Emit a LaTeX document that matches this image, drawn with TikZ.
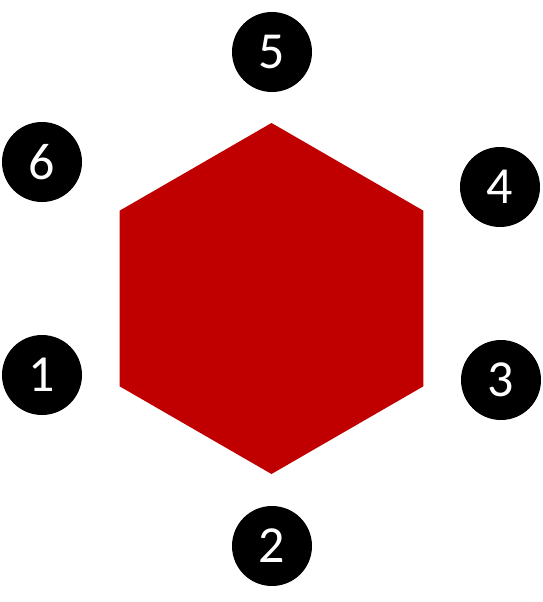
\documentclass[tikz,border=0pt]{standalone}
\usepackage{fontspec}
\setmainfont{Carlito}
\usepackage{xcolor}
\usetikzlibrary{shapes.geometric}
\definecolor{hexred}{HTML}{C00000}

\tikzset{
    numdot/.style={circle, fill=black, text=white, minimum size=80pt,
                   inner sep=0pt, font=\fontsize{52}{52}\selectfont},
    hexbody/.style={regular polygon, regular polygon sides=6,
                    shape border rotate=30, fill=hexred,
                    minimum size=351pt, inner sep=0pt, outer sep=0pt}
}

\begin{document}
\begin{tikzpicture}[x=1pt, y=-1pt]
        \useasboundingbox (0,0) rectangle (543,602);
        \node[hexbody] (hex) at (271.5,298.5) {};
        \node[numdot] (n1) at (42,375) {1};
        \node[numdot] (n2) at (272,546) {2};
        \node[numdot] (n3) at (501,380) {3};
        \node[numdot] (n4) at (500,187) {4};
        \node[numdot] (n5) at (272,52) {5};
        \node[numdot] (n6) at (42,162) {6};
    \end{tikzpicture}
\end{document}
